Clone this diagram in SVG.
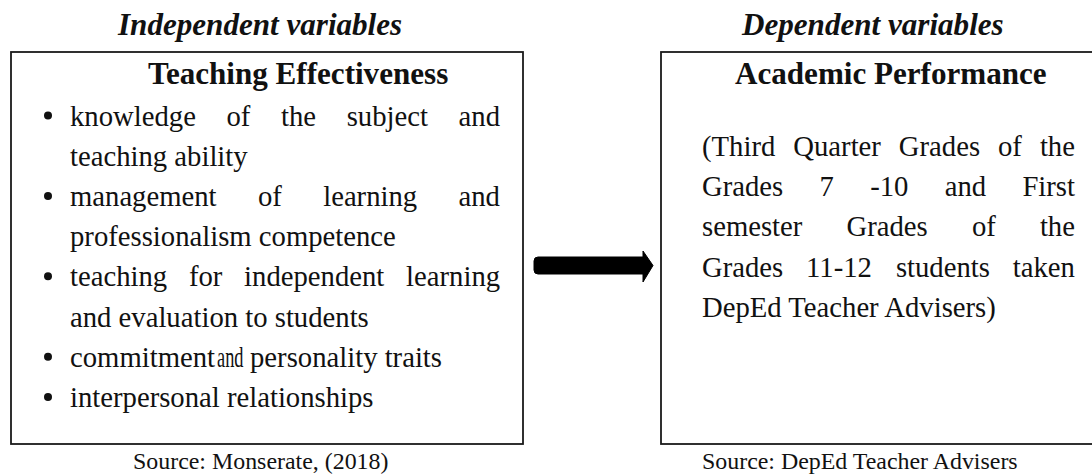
<svg xmlns="http://www.w3.org/2000/svg" width="1092" height="475" viewBox="0 0 1092 475">
<style>
text{font-family:"Liberation Serif","Times New Roman",serif;fill:#111}
.hd{font-size:31.1px;font-weight:bold;font-style:italic}
.tt{font-size:31.1px;font-weight:bold}
.bd{font-size:28.7px}
.src{font-size:23.9px}
.box{fill:#fff;stroke:#1a1a1a;stroke-width:1.8}
.bul{fill:#111}
</style>
<rect width="1092" height="475" fill="#fff"/>
<text class="hd" x="118" y="35">Independent variables</text>
<text class="hd" x="742" y="35">Dependent variables</text>
<g id="node-teaching">
<rect class="box" x="11" y="52" width="512" height="392"/>
<text class="tt" x="148" y="84">Teaching Effectiveness</text>
<circle class="bul" cx="48" cy="115.5" r="4"/>
<circle class="bul" cx="48" cy="195.9" r="4"/>
<circle class="bul" cx="48" cy="276.3" r="4"/>
<circle class="bul" cx="48" cy="356.7" r="4"/>
<circle class="bul" cx="48" cy="396.9" r="4"/>
<text class="bd" y="125.5"><tspan x="70">knowledge</tspan><tspan x="226.5">of</tspan><tspan x="281">the</tspan><tspan x="346.7">subject</tspan><tspan x="458.6">and</tspan></text>
<text class="bd" x="70" y="165.7">teaching ability</text>
<text class="bd" y="205.9"><tspan x="70">management</tspan><tspan x="258">of</tspan><tspan x="323.2">learning</tspan><tspan x="458.5">and</tspan></text>
<text class="bd" x="70" y="246.1">professionalism competence</text>
<text class="bd" y="286.3"><tspan x="70">teaching</tspan><tspan x="188.9">for</tspan><tspan x="244.1">independent</tspan><tspan x="406.1">learning</tspan></text>
<text class="bd" x="70" y="326.5">and evaluation to students</text>
<text class="bd" x="70" y="366.7">commitment</text>
<text class="bd" transform="translate(217 366.7) scale(0.64 1)">and</text>
<text class="bd" x="250" y="366.7">personality traits</text>
<text class="bd" x="70" y="406.9">interpersonal relationships</text>
</g>
<g id="node-academic">
<rect class="box" x="661" y="52" width="450" height="392"/>
<text class="tt" x="735" y="84">Academic Performance</text>
<text class="bd" y="156"><tspan x="702">(Third</tspan><tspan x="793.3">Quarter</tspan><tspan x="898.8">Grades</tspan><tspan x="998">of</tspan><tspan x="1039.9">the</tspan></text>
<text class="bd" y="196.2"><tspan x="702">Grades</tspan><tspan x="819.6">7</tspan><tspan x="870.2">-10</tspan><tspan x="944.7">and</tspan><tspan x="1022.4">First</tspan></text>
<text class="bd" y="236.4"><tspan x="702">semester</tspan><tspan x="846.5">Grades</tspan><tspan x="971.9">of</tspan><tspan x="1039.9">the</tspan></text>
<text class="bd" y="276.6"><tspan x="702">Grades</tspan><tspan x="806.1">11-12</tspan><tspan x="895.9">students</tspan><tspan x="1012.8">taken</tspan></text>
<text class="bd" x="702" y="316.8">DepEd Teacher Advisers)</text>
</g>
<g id="connectors">
<path d="M538 257 L643 257 L643 251 L653 265.5 L643 282 L643 274 L538 274 Q534 274 534 270 L534 261 Q534 257 538 257 Z" fill="#000" stroke="#000" stroke-width="1" stroke-linejoin="round"/>
</g>
<text class="src" x="133" y="469">Source: Monserate, (2018)</text>
<text class="src" x="702" y="469">Source: DepEd Teacher Advisers</text>
</svg>
